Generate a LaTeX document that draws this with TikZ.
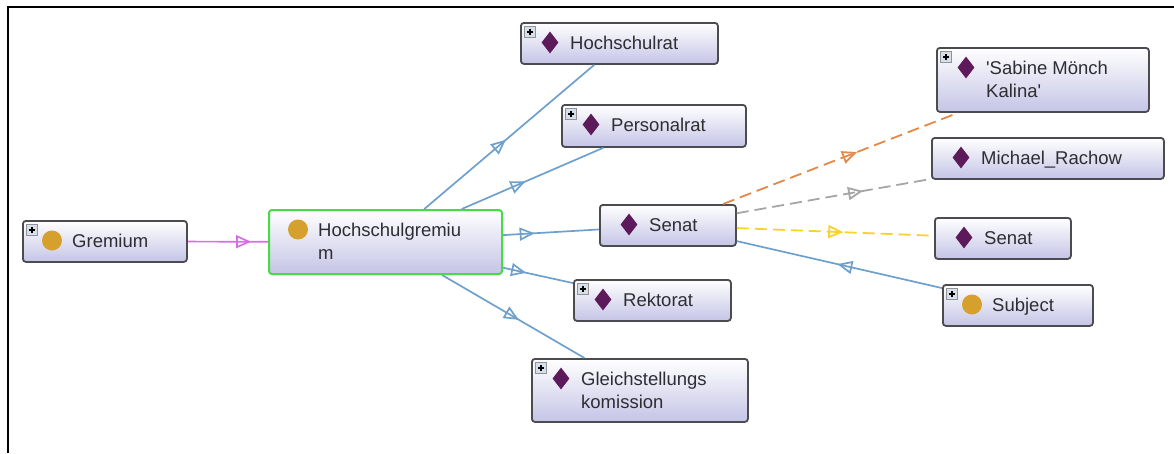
\documentclass[tikz,border=0pt]{standalone}
\usepackage{fontspec}
\setmainfont{Liberation Sans}
\usetikzlibrary{arrows.meta,decorations.markings,shapes.geometric}
\definecolor{boxline}{RGB}{75,75,80}
\definecolor{boxlow}{RGB}{196,196,230}
\definecolor{selgreen}{RGB}{70,220,70}
\definecolor{txtgray}{RGB}{45,45,50}
\definecolor{clsgold}{RGB}{214,160,44}
\definecolor{indpurple}{RGB}{92,26,90}
\definecolor{plusfill}{RGB}{214,224,236}
\definecolor{isablue}{RGB}{110,160,205}
\definecolor{subviolet}{RGB}{214,110,232}
\definecolor{relorange}{RGB}{228,136,74}
\definecolor{relgray}{RGB}{165,165,165}
\definecolor{relyellow}{RGB}{250,210,40}

\begin{document}
\begin{tikzpicture}[
        x=1pt, y=-1pt,
        box/.style={draw=boxline, line width=1.8pt, rounded corners=3pt, top color=white,
            bottom color=boxlow, anchor=north west, inner sep=0pt},
        selbox/.style={box, draw=selgreen, line width=2pt},
        lbl/.style={anchor=base west, inner sep=0pt, align=left, text=txtgray,
            font=\fontsize{18.5}{23}\selectfont},
        cls/.style={circle, fill=clsgold, minimum size=20pt, inner sep=0pt},
        ind/.style={diamond, fill=indpurple, minimum width=17pt, minimum height=22pt, inner sep=0pt},
        plus/.style={draw=boxline!60, fill=plusfill, line width=.6pt, minimum size=11pt, inner sep=0pt,
            path picture={\draw[line width=1.1pt, black]
                (path picture bounding box.center) ++(-3pt,0) -- ++(6pt,0)
                (path picture bounding box.center) ++(0,-3pt) -- ++(0,6pt);}},
        tip/.style={postaction=decorate, decoration={markings,
            mark=at position #1 with {\arrow{Triangle[open, length=15pt, width=13pt]}}}},
        isa/.style={draw=isablue, line width=1.7pt},
        rel/.style={line width=1.8pt, dash pattern=on 12pt off 6pt},
    ]
    \useasboundingbox (0,0) rectangle (1174,453);
    \draw[line width=2pt] (8,453) -- (8,7) -- (1174,7);

    % classes and individuals
    \node[box, minimum width=164pt, minimum height=41pt] (grem) at (22,220) {};
    \node[selbox, minimum width=233pt, minimum height=64pt] (hgrem) at (268,209) {};
    \node[box, minimum width=197pt, minimum height=41pt] (hrat) at (520,22) {};
    \node[box, minimum width=184pt, minimum height=42pt] (prat) at (561,104) {};
    \node[box, minimum width=136pt, minimum height=41pt] (senat) at (599,204) {};
    \node[box, minimum width=157pt, minimum height=41pt] (rekt) at (573,279) {};
    \node[box, minimum width=216pt, minimum height=63pt] (gleich) at (531,358) {};
    \node[box, minimum width=212pt, minimum height=64pt] (sabine) at (936,47) {};
    \node[box, minimum width=232pt, minimum height=41pt] (michael) at (931,137) {};
    \node[box, minimum width=136pt, minimum height=41pt] (senat2) at (934,217) {};
    \node[box, minimum width=150pt, minimum height=41pt] (subj) at (942,284) {};

    % icons
    \node[cls] (grem-i) at ([shift={(30,20.5)}]grem.north west) {};
    \node[cls] (hgrem-i) at ([shift={(30,20.5)}]hgrem.north west) {};
    \node[ind] (hrat-i) at ([shift={(30,20.5)}]hrat.north west) {};
    \node[ind] (prat-i) at ([shift={(30,20.5)}]prat.north west) {};
    \node[ind] (senat-i) at ([shift={(30,20.5)}]senat.north west) {};
    \node[ind] (rekt-i) at ([shift={(30,20.5)}]rekt.north west) {};
    \node[ind] (gleich-i) at ([shift={(30,20.5)}]gleich.north west) {};
    \node[ind] (sabine-i) at ([shift={(30,20.5)}]sabine.north west) {};
    \node[ind] (michael-i) at ([shift={(30,20.5)}]michael.north west) {};
    \node[ind] (senat2-i) at ([shift={(30,20.5)}]senat2.north west) {};
    \node[cls] (subj-i) at ([shift={(30,20.5)}]subj.north west) {};

    \node[plus] (grem-p) at ([shift={(10,10)}]grem.north west) {};
    \node[plus] (hrat-p) at ([shift={(10,10)}]hrat.north west) {};
    \node[plus] (prat-p) at ([shift={(10,10)}]prat.north west) {};
    \node[plus] (rekt-p) at ([shift={(10,10)}]rekt.north west) {};
    \node[plus] (gleich-p) at ([shift={(10,10)}]gleich.north west) {};
    \node[plus] (sabine-p) at ([shift={(10,10)}]sabine.north west) {};
    \node[plus] (subj-p) at ([shift={(10,10)}]subj.north west) {};

    % labels (base = last line)
    \node[lbl] (grem-t) at ([shift={(50,27)}]grem.north west) {Gremium};
    \node[lbl] (hgrem-t) at ([shift={(50,50)}]hgrem.north west) {Hochschulgremiu\\m};
    \node[lbl] (hrat-t) at ([shift={(50,27)}]hrat.north west) {Hochschulrat};
    \node[lbl] (prat-t) at ([shift={(50,27)}]prat.north west) {Personalrat};
    \node[lbl] (senat-t) at ([shift={(50,27)}]senat.north west) {Senat};
    \node[lbl] (rekt-t) at ([shift={(50,27)}]rekt.north west) {Rektorat};
    \node[lbl] (gleich-t) at ([shift={(50,50)}]gleich.north west) {Gleichstellungs\\komission};
    \node[lbl] (sabine-t) at ([shift={(50,50)}]sabine.north west)
        {\textquotesingle Sabine Mönch\\Kalina\textquotesingle};
    \node[lbl] (michael-t) at ([shift={(50,27)}]michael.north west) {Michael\_Rachow};
    \node[lbl] (senat2-t) at ([shift={(50,27)}]senat2.north west) {Senat};
    \node[lbl] (subj-t) at ([shift={(50,27)}]subj.north west) {Subject};

    % connectors
    \draw[draw=subviolet, line width=1.7pt, tip=0.79] (grem) -- (hgrem);
    \draw[isa, tip=0.48] (hgrem) -- (hrat);
    \draw[isa, tip=0.45] (hgrem) -- (prat);
    \draw[isa, tip=0.33] (hgrem) -- (senat);
    \draw[isa, tip=0.33] (hgrem) -- (rekt);
    \draw[isa, tip=0.54] (hgrem) -- (gleich);
    \draw[rel, draw=relorange, tip=0.57] (senat) -- (sabine);
    \draw[rel, draw=relgray, tip=0.65] (senat) -- (michael);
    \draw[rel, draw=relyellow, tip=0.54] (senat) -- (senat2);
    \draw[isa, tip=0.51] (subj) -- (senat);
\end{tikzpicture}
\end{document}
